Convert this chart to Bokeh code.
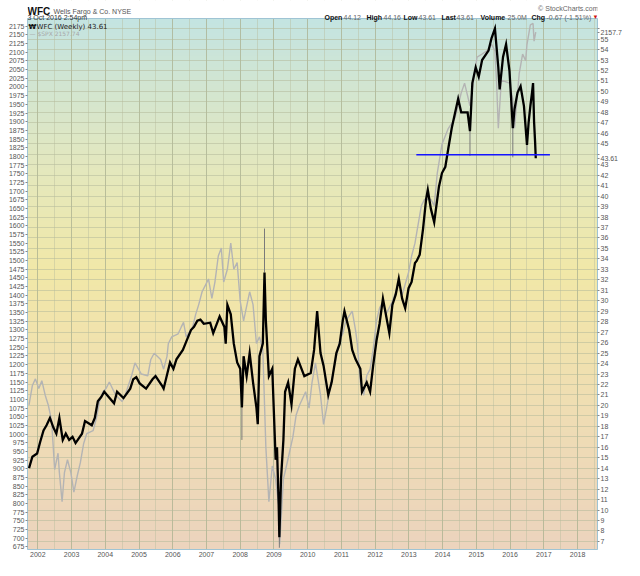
import numpy as np
from bokeh.plotting import figure
from bokeh.models import Range1d, LinearAxis, FixedTicker, Label
from bokeh.embed import file_html
from bokeh.resources import INLINE

# ---------------- data ----------------
wfc_t = [2001.74, 2001.84, 2001.98, 2002.07, 2002.17, 2002.26, 2002.36, 2002.46, 2002.55, 2002.64,
         2002.74, 2002.83, 2002.93, 2003.03, 2003.12, 2003.31, 2003.40, 2003.60, 2003.69, 2003.78,
         2003.88, 2003.97, 2004.26, 2004.35, 2004.54, 2004.74, 2004.83, 2004.92, 2005.02, 2005.21,
         2005.40, 2005.49, 2005.68, 2005.73, 2005.92, 2006.02, 2006.11, 2006.30, 2006.40, 2006.54,
         2006.63, 2006.73, 2006.82, 2006.92, 2007.11, 2007.20, 2007.39, 2007.53, 2007.57, 2007.62,
         2007.72, 2007.81, 2007.91, 2008.00, 2008.05, 2008.10, 2008.19, 2008.28, 2008.38, 2008.48,
         2008.52, 2008.57, 2008.67, 2008.72, 2008.76, 2008.85, 2008.95, 2009.05, 2009.09, 2009.14,
         2009.16, 2009.21, 2009.28, 2009.33, 2009.42, 2009.52, 2009.62, 2009.71, 2009.90, 2010.09,
         2010.19, 2010.28, 2010.38, 2010.47, 2010.61, 2010.71, 2010.85, 2010.95, 2011.04, 2011.09,
         2011.23, 2011.32, 2011.42, 2011.56, 2011.61, 2011.75, 2011.85, 2011.94, 2012.04, 2012.13,
         2012.23, 2012.42, 2012.51, 2012.61, 2012.70, 2012.80, 2012.89, 2012.99, 2013.08, 2013.18,
         2013.23, 2013.32, 2013.42, 2013.51, 2013.56, 2013.65, 2013.75, 2013.89, 2013.98, 2014.08,
         2014.17, 2014.27, 2014.46, 2014.55, 2014.74, 2014.81, 2014.88, 2014.98, 2015.07, 2015.17,
         2015.36, 2015.45, 2015.55, 2015.65, 2015.69, 2015.79, 2015.88, 2015.98, 2016.03, 2016.08,
         2016.13, 2016.22, 2016.31, 2016.41, 2016.50, 2016.55, 2016.60, 2016.65, 2016.68, 2016.71,
         2016.74, 2016.76]
wfc_close = [14.0, 15.1, 15.4, 16.5, 17.6, 18.1, 18.8, 17.9, 17.3, 18.8,
             16.7, 17.3, 16.7, 17.0, 16.4, 17.3, 18.5, 18.1, 18.8, 20.4,
             20.8, 21.3, 20.2, 21.3, 20.7, 21.6, 22.5, 22.7, 22.1, 21.6,
             22.5, 22.8, 21.9, 21.6, 24.1, 23.5, 24.4, 25.3, 26.1, 27.2,
             27.5, 28.1, 28.2, 27.8, 27.9, 26.9, 28.5, 27.5, 25.9, 29.6,
             28.7, 25.9, 24.1, 23.5, 19.8, 24.7, 22.8, 25.0, 22.2, 19.8,
             18.2, 24.7, 25.9, 32.7, 28.1, 22.8, 23.5, 14.8, 16.0, 10.5,
             7.4, 13.0, 16.7, 21.3, 22.2, 20.1, 23.5, 24.4, 22.8, 23.1,
             25.3, 29.0, 25.0, 23.8, 21.0, 22.2, 25.0, 25.9, 28.1, 29.0,
             27.2, 25.3, 24.4, 23.5, 21.3, 22.2, 21.3, 23.8, 26.2, 27.8,
             30.2, 26.9, 29.6, 30.6, 32.1, 30.2, 29.3, 31.2, 31.8, 33.6,
             33.8, 34.4, 36.9, 39.7, 40.6, 38.8, 37.5, 40.9, 42.2, 42.8,
             44.6, 46.5, 49.3, 48.0, 48.0, 46.2, 50.8, 52.3, 51.4, 53.0,
             53.9, 55.1, 56.0, 52.3, 50.2, 53.3, 54.5, 52.0, 49.3, 46.5,
             48.3, 49.9, 50.5, 48.6, 44.9, 47.1, 48.6, 49.9, 50.8, 47.1,
             45.2, 43.61]

# thin bar extremes (wicks) visible in the picture
wick_t = [2008.05, 2008.72, 2009.16, 2014.81, 2016.08, 2016.50]
wick_lo = [16.7, 32.7, 6.4, 43.85, 43.7, 44.0]
wick_hi = [19.8, 36.9, 7.4, 46.2, 46.5, 44.9]

spx_t = [2001.74, 2001.84, 2001.93, 2002.03, 2002.12, 2002.22, 2002.31, 2002.41, 2002.50, 2002.60,
         2002.64, 2002.72, 2002.79, 2002.88, 2002.98, 2003.07, 2003.17, 2003.26, 2003.36, 2003.45,
         2003.64, 2003.74, 2003.83, 2003.93, 2004.02, 2004.12, 2004.31, 2004.50, 2004.59, 2004.78,
         2004.88, 2005.07, 2005.26, 2005.35, 2005.45, 2005.64, 2005.73, 2005.83, 2005.87, 2005.97,
         2006.16, 2006.25, 2006.32, 2006.40, 2006.59, 2006.68, 2006.77, 2006.87, 2006.97, 2007.06,
         2007.16, 2007.25, 2007.35, 2007.44, 2007.51, 2007.62, 2007.72, 2007.81, 2007.91, 2008.00,
         2008.10, 2008.28, 2008.38, 2008.48, 2008.57, 2008.67, 2008.76, 2008.85, 2008.95, 2009.05,
         2009.14, 2009.17, 2009.28, 2009.37, 2009.56, 2009.66, 2009.76, 2009.94, 2010.04, 2010.13,
         2010.23, 2010.38, 2010.47, 2010.56, 2010.66, 2010.85, 2010.95, 2011.04, 2011.13, 2011.32,
         2011.42, 2011.47, 2011.56, 2011.66, 2011.75, 2011.85, 2011.94, 2012.04, 2012.13, 2012.23,
         2012.32, 2012.51, 2012.61, 2012.70, 2012.80, 2012.99, 2013.08, 2013.18, 2013.27, 2013.37,
         2013.46, 2013.65, 2013.75, 2013.84, 2013.98, 2014.17, 2014.36, 2014.46, 2014.55, 2014.65,
         2014.81, 2014.93, 2015.02, 2015.17, 2015.31, 2015.45, 2015.55, 2015.60, 2015.65, 2015.74,
         2015.98, 2016.08, 2016.13, 2016.27, 2016.37, 2016.46, 2016.50, 2016.60, 2016.68, 2016.71,
         2016.76]
spx_close = [1084, 1140, 1159, 1131, 1154, 1112, 1084, 1038, 898, 945,
             889, 805, 889, 926, 889, 833, 880, 917, 973, 1001,
             1010, 1047, 1094, 1122, 1131, 1150, 1112, 1094, 1112, 1168,
             1205, 1173, 1168, 1215, 1233, 1215, 1187, 1224, 1261, 1280,
             1289, 1308, 1322, 1280, 1308, 1345, 1373, 1410, 1429, 1447,
             1391, 1438, 1513, 1536, 1438, 1475, 1550, 1475, 1494, 1382,
             1326, 1410, 1373, 1261, 1280, 1243, 963, 805, 908, 870,
             796, 683, 870, 908, 991, 1056, 1084, 1122, 1075, 1150,
             1205, 1112, 1028, 1075, 1131, 1224, 1270, 1289, 1326, 1354,
             1298, 1261, 1150, 1112, 1168, 1187, 1243, 1326, 1363, 1382,
             1345, 1382, 1410, 1438, 1401, 1466, 1513, 1550, 1602, 1658,
             1676, 1676, 1658, 1751, 1835, 1881, 1909, 1946, 1983, 2011,
             1946, 2030, 2086, 2095, 2104, 2123, 2104, 2011, 1881, 2020,
             2011, 1965, 1881, 2039, 2095, 2076, 2123, 2179, 2183, 2132,
             2157.74]

support_level = [43.95]
support_start = [2013.22]
support_end = [2017.18]

years = list(range(2002, 2019))
year_labels = [str(y) for y in years]
wfc_ticks = list(range(7, 57))
spx_ticks = list(range(675, 2176, 25))

last_wfc = 43.61
last_spx = 2157.74

# ---------------- layout constants ----------------
X0, X1 = 2001.695, 2018.59          # visible dates
Y0, Y1 = 6.23, 56.97                # WFC price window
S0, S1 = 667.5, 2197.3              # S&P 500 window

W, H = 624, 560
LEFT, RIGHT, BOTTOM = 27, 23, 11
TOP = 18                            # height of the header band inside the frame
CHART_H = H - BOTTOM - TOP
Y_TOP = Y1 + TOP * (Y1 - Y0) / CHART_H
S_TOP = S1 + TOP * (S1 - S0) / CHART_H

FONT = "Liberation Sans"
AX_COLOR = "#9fc4d4"
LBL_COLOR = "#555555"

p = figure(width=W, height=H,
           x_range=Range1d(X0, X1), y_range=Range1d(Y0, Y_TOP),
           y_axis_location="right",
           output_backend="svg", toolbar_location=None,
           min_border_left=LEFT, min_border_right=RIGHT,
           min_border_top=0, min_border_bottom=BOTTOM,
           background_fill_color="white", border_fill_color="white",
           outline_line_color=None)
p.extra_y_ranges = {"spx": Range1d(S0, S_TOP)}

# background gradient (teal -> yellow -> peach)
stops_f = [0.0, 0.30, 0.52, 0.72, 1.0]
stops_c = np.array([(236, 212, 190), (240, 223, 178), (242, 232, 168), (228, 232, 190), (196, 228, 226)], float)
N = 300
f = np.linspace(0, 1, N)
img = np.empty((N, 2), dtype=np.uint32)
view = img.view(dtype=np.uint8).reshape((N, 2, 4))
for ch in range(3):
    view[:, :, ch] = np.interp(f, stops_f, stops_c[:, ch]).astype(np.uint8)[:, None]
view[:, :, 3] = 255
p.image_rgba(image=[img], x=X0, y=Y0, dw=X1 - X0, dh=Y1 - Y0, level="image")

# axes
yr = p.yaxis[0]
tag_y = Y0 + (last_spx - S0) / (S1 - S0) * (Y1 - Y0)   # where the S&P tag sits on the price axis
yr.ticker = FixedTicker(ticks=wfc_ticks + [last_wfc, tag_y])
ov = {t: str(t) for t in wfc_ticks}
ov[56] = ""
ov[44] = ""
ov[last_wfc] = f"{last_wfc:.2f}"
ov[tag_y] = f"{last_spx:.1f}"
yr.major_label_overrides = ov
yr.bounds = (Y0, Y1)

sx_axis = LinearAxis(y_range_name="spx", ticker=FixedTicker(ticks=spx_ticks), bounds=(S0, S1))
p.add_layout(sx_axis, "left")

xt = FixedTicker(ticks=years, minor_ticks=[y + 0.5 for y in range(2001, 2019)])
p.xaxis.ticker = xt
p.xaxis.major_label_overrides = {y: s for y, s in zip(years, year_labels)}

for ax in [yr, sx_axis] + list(p.xaxis):
    ax.axis_line_color = AX_COLOR
    ax.major_tick_line_color = "#888888"
    ax.major_tick_out = 2
    ax.major_tick_in = 0
    ax.minor_tick_out = 0
    ax.minor_tick_in = 0
    ax.major_label_text_font = FONT
    ax.major_label_text_font_size = "7px"
    ax.major_label_text_color = LBL_COLOR
    ax.major_label_standoff = 1
p.xaxis.major_tick_out = 0
p.xaxis.major_label_standoff = 2

p.xgrid.ticker = xt
p.xgrid.grid_line_color = "#aab08f"
p.xgrid.grid_line_alpha = 0.75
p.xgrid.minor_grid_line_color = "#b9bd9e"
p.xgrid.minor_grid_line_alpha = 0.45
p.ygrid.ticker = FixedTicker(ticks=wfc_ticks)
p.ygrid.grid_line_color = "#b5b99a"
p.ygrid.grid_line_alpha = 0.55

# header band (white) and chart border
p.quad(left=X0, right=X1, bottom=Y1, top=Y_TOP, fill_color="white", line_color=None)
p.quad(left=X0, right=X1, bottom=Y0, top=Y1, fill_color=None, line_color=AX_COLOR, line_width=1)

# series
p.line(spx_t, spx_close, y_range_name="spx", line_color="#b4b4b4", line_width=1.4)
p.segment(x0=wick_t, y0=wick_lo, x1=wick_t, y1=wick_hi, line_color="#7a7a7a", line_width=1)
p.line(wfc_t, wfc_close, line_color="black", line_width=2.3, line_join="miter")
p.segment(x0=support_start, y0=support_level, x1=support_end, y1=support_level,
          line_color="#1414ff", line_width=1.5)

# ---------------- texts (positions in canvas pixels) ----------------
def lab(text, px, py, size="7px", color="#444444", style="normal", font=FONT, anchor="left", **kw):
    """place a text with its baseline at canvas pixel (px, py)"""
    p.add_layout(Label(x=X0, y=Y1, x_offset=px - LEFT, y_offset=TOP - py, text=text,
                       text_font=font, text_font_size=size, text_color=color,
                       text_font_style=style, text_align=anchor,
                       text_baseline="alphabetic", **kw))

lab("WFC", 27, 11, size="10px", color="#111111", style="bold")
lab("Wells Fargo & Co. NYSE", 53, 11, color="#555555")
lab("3 Oct 2016 2:54pm", 27, 17, color="#333333")
lab("\u00a9 StockCharts.com", 598, 8, color="#666666", anchor="right")

hdr = [("Open", True, 346), ("44.12", False, 365), ("High", True, 388), ("44.16", False, 405),
       ("Low", True, 425), ("43.61", False, 440), ("Last", True, 463), ("43.61", False, 478),
       ("Volume", True, 502), ("25.0M", False, 529), ("Chg", True, 553), ("-0.67 (-1.51%)", False, 568)]
shift = -22
for txt, bold, px in hdr:
    lab(txt, px + shift, 17, color="#111111" if bold else "#666666",
        style="bold" if bold else "normal")
lab("\u25bc", 592, 16, size="6px", color="#d01010")

# legend inside the chart
lab("\u20a9", 28, 26, size="7px", color="#111111", style="bold", font="DejaVu Sans")
lab("WFC (Weekly) 43.61", 36, 26, size="7px", color="#222222", font="DejaVu Sans")
lab("\u2014 $SPX 2157.74", 29, 33, size="6px", color="#a8a8a8", font="DejaVu Sans")

open("out.html", "w").write(file_html(p, INLINE))
